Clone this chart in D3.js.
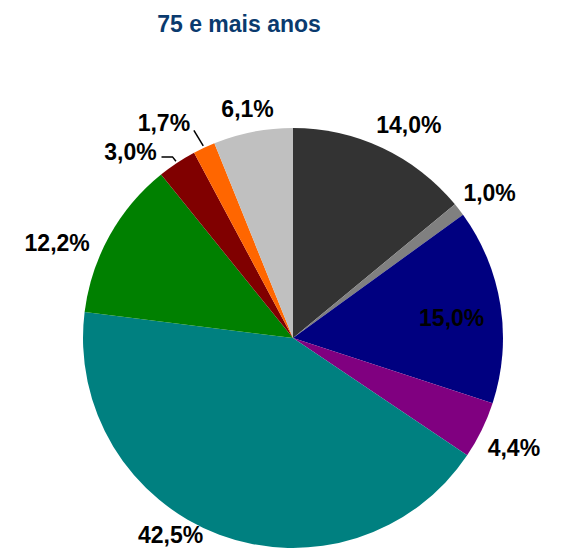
<!DOCTYPE html>
<html>
<head>
<meta charset="utf-8">
<script src="https://cdn.jsdelivr.net/npm/d3@7"></script>
<style>
  body { margin: 0; background: #fff; }
  text { font-family: "Liberation Sans", Arial, sans-serif; font-weight: bold; }
</style>
</head>
<body>
<div id="chart"></div>
<script>
var width = 566, height = 550;

// data
var categories = ["A", "B", "C", "D", "E", "F", "G", "H", "I"];
var values = [14.0, 1.0, 15.0, 4.4, 42.5, 12.2, 3.0, 1.7, 6.1];
var labels = ["14,0%", "1,0%", "15,0%", "4,4%", "42,5%", "12,2%", "3,0%", "1,7%", "6,1%"];
var colors = ["#333333", "#808080", "#000080", "#800080", "#008080", "#008000", "#800000", "#ff6600", "#c0c0c0"];

// label layout (nudges away from centroid, inside flag, leader lines)
var labelNudge = [[12, 7], [4, 4], [1, 5], [2, 3], [-37, -31], [-23, 23], [-28, 17], [-26, 6], [1, 10]];
var cx = 293, cy = 338, r = 210;

var svg = d3.select("#chart").append("svg")
    .attr("width", width)
    .attr("height", height);

svg.append("text")
    .attr("x", 239)
    .attr("y", 32)
    .attr("text-anchor", "middle")
    .style("font-size", "23px")
    .attr("fill", "#0a3a6e")
    .text("75 e mais anos");

var pie = d3.pie().sort(null).value(d => d)(values);

var arc = d3.arc().innerRadius(0).outerRadius(r);
var outerArc = d3.arc().innerRadius(r * 1.16).outerRadius(r * 1.16);
var innerArc = d3.arc().innerRadius(r * 0.76).outerRadius(r * 0.76);
var edgeArc = d3.arc().innerRadius(r + 2).outerRadius(r + 2);

var g = svg.append("g")
    .attr("transform", "translate(" + cx + "," + cy + ")");

g.selectAll("path.slice")
    .data(pie)
  .enter().append("path")
    .attr("class", "slice")
    .attr("fill", (d, i) => colors[i])
    .attr("d", arc);

var labelPos = pie.map((d, i) => {
  var c = (i === 2 ? innerArc : outerArc).centroid(d);
  return [c[0] + labelNudge[i][0], c[1] + labelNudge[i][1]];
});

// leader lines for the two small slices
[6, 7].forEach(i => {
  var e = edgeArc.centroid(pie[i]);
  var p = labelPos[i];
  var pts = i === 6
    ? [e, [p[0] + 42, p[1] + 5], [p[0] + 31, p[1] + 5]]
    : [e, [p[0] + 30, p[1] + 7]];
  g.append("path")
    .attr("d", d3.line()(pts))
    .attr("fill", "none")
    .attr("stroke", "#000")
    .attr("stroke-width", 1.5);
});

g.selectAll("text.lbl")
    .data(pie)
  .enter().append("text")
    .attr("class", "lbl")
    .attr("x", (d, i) => labelPos[i][0])
    .attr("y", (d, i) => labelPos[i][1])
    .attr("dy", "0.35em")
    .attr("text-anchor", "middle")
    .style("font-size", "23px")
    .attr("fill", "#000")
    .text((d, i) => labels[i]);
</script>
</body>
</html>
